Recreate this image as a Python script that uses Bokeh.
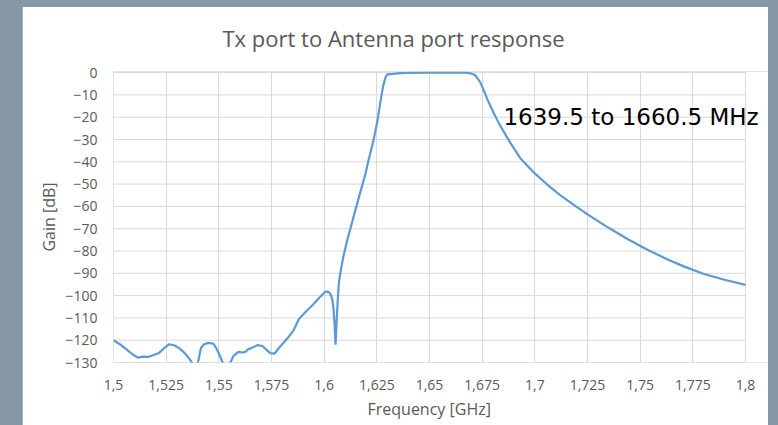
from bokeh.plotting import figure
from bokeh.models import Range1d, Label, Title
from bokeh.embed import file_html
from bokeh.resources import INLINE

# ---- data ----
freq_ghz = [
    1.500, 1.503, 1.506, 1.509, 1.5115, 1.514, 1.5165, 1.519, 1.5215, 1.524,
    1.5265, 1.529, 1.5315, 1.534, 1.536, 1.5375, 1.539, 1.540, 1.5415, 1.543,
    1.545, 1.5475, 1.549, 1.5505, 1.552, 1.554, 1.5555, 1.557, 1.5593, 1.561,
    1.5627, 1.564, 1.566, 1.5684, 1.5707, 1.5725, 1.5745, 1.5765, 1.5785, 1.5805,
    1.583, 1.5855, 1.588, 1.5915, 1.595, 1.598, 1.6006, 1.602, 1.603, 1.6038,
    1.6044, 1.6049, 1.6054, 1.6059, 1.6065, 1.607, 1.608, 1.609, 1.611, 1.613,
    1.615, 1.6172, 1.6196, 1.621, 1.6234, 1.6253, 1.6267, 1.628, 1.6291, 1.630,
    1.633, 1.636, 1.640, 1.650, 1.660, 1.667, 1.6695, 1.6718, 1.6742, 1.676,
    1.6775, 1.6804, 1.6837, 1.6884, 1.6932, 1.700, 1.706, 1.712, 1.718, 1.725,
    1.735, 1.744, 1.753, 1.763, 1.771, 1.780, 1.790, 1.800,
]
gain_db = [
    -120.0, -121.8, -124.0, -126.3, -127.8, -127.4, -127.5, -126.6, -125.8, -123.6,
    -121.8, -122.4, -123.8, -126.0, -128.3, -130.5, -134.0, -130.5, -123.5, -121.8,
    -121.2, -121.6, -124.0, -127.0, -130.5, -134.0, -130.0, -127.0, -125.2, -125.5,
    -125.2, -124.0, -123.3, -122.2, -122.6, -124.2, -125.8, -126.0, -123.5, -121.4,
    -118.7, -115.5, -110.5, -107.0, -103.8, -100.6, -98.2, -98.3, -99.3, -101.5,
    -105.5, -112.0, -122.0, -112.0, -101.0, -94.0, -88.0, -83.0, -75.0, -68.0,
    -61.0, -53.5, -45.5, -39.5, -30.5, -21.5, -13.0, -6.0, -2.2, -0.8,
    -0.6, -0.2, -0.1, 0.0, 0.0, 0.0, -0.3, -1.2, -4.5, -8.5,
    -12.0, -18.0, -24.0, -31.5, -38.5, -45.2, -50.3, -54.9, -59.0, -63.6,
    -69.6, -74.6, -79.2, -83.8, -87.0, -90.2, -92.9, -95.2,
]
x_ticks = [1.5, 1.525, 1.55, 1.575, 1.6, 1.625, 1.65, 1.675, 1.7, 1.725, 1.75, 1.775, 1.8]
x_tick_labels = ["1,5", "1,525", "1,55", "1,575", "1,6", "1,625", "1,65", "1,675",
                 "1,7", "1,725", "1,75", "1,775", "1,8"]
y_ticks = [0, -10, -20, -30, -40, -50, -60, -70, -80, -90, -100, -110, -120, -130]

title_text = "Tx port to Antenna port response"
x_label_text = "Frequency [GHz]"
y_label_text = "Gain [dB]"
note_text = "1639.5 to 1660.5 MHz"

TXT = "#595959"
GRID = "#d9d9d9"
FONT = "Open Sans"
SLIDE = "#8697a5"
X_MIN, X_MAX = x_ticks[0], x_ticks[-1]

# frame runs a little past 1.8 on the right so the annotation is not clipped
p = figure(width=746, height=425, output_backend="svg", toolbar_location=None,
           x_range=Range1d(1.5, 1.81092), y_range=Range1d(-130, 0.5),
           min_border_left=91, min_border_right=0, min_border_top=71, min_border_bottom=63,
           background_fill_color="white", border_fill_color="white",
           title=title_text)
p.margin = (0, 0, 0, 22)
p.outline_line_color = None

p.title.align = "left"
p.title.offset = 109
p.title.text_font = FONT
p.title.text_font_size = "22px"
p.title.text_font_style = "normal"
p.title.text_color = TXT
p.title.standoff = 38

# horizontal gridlines only across the plotted band 1.5 .. 1.8
p.ygrid.grid_line_color = None
p.segment(x0=[X_MIN] * len(y_ticks), x1=[X_MAX] * len(y_ticks), y0=y_ticks, y1=y_ticks,
          line_color=GRID, line_width=1)
p.xgrid.grid_line_color = GRID
p.xgrid.grid_line_width = 1

p.line(freq_ghz, gain_db, line_color="#5b9bd5", line_width=2.2)

p.xaxis.ticker = x_ticks
p.xaxis.major_label_overrides = {t: s for t, s in zip(x_ticks, x_tick_labels)}
p.yaxis.ticker = y_ticks
p.yaxis.bounds = (-134, 0)
for ax in (p.xaxis, p.yaxis):
    ax.axis_line_color = None
    ax.major_tick_line_color = None
    ax.minor_tick_line_color = None
    ax.major_label_text_color = TXT
    ax.major_label_text_font = FONT
    ax.major_label_text_font_size = "14px"
p.yaxis.axis_label = y_label_text
p.yaxis.axis_label_text_color = TXT
p.yaxis.axis_label_text_font = FONT
p.yaxis.axis_label_text_font_size = "16px"
p.yaxis.axis_label_text_font_style = "normal"
p.xaxis.major_label_standoff = 11
p.yaxis.major_label_standoff = 10
p.yaxis.axis_label_standoff = 2

# x-axis title, centred under the 1.5 .. 1.8 band
p.add_layout(Title(text=x_label_text, align="left", offset=254, standoff=7,
                   text_font=FONT, text_font_size="16px", text_font_style="normal",
                   text_color=TXT), "below")

p.add_layout(Label(x=1.6851, y=-19.7, text=note_text, text_align="left",
                   text_baseline="middle", text_font="DejaVu Sans",
                   text_font_size="23px", text_color="black"))

page_css = ("<style>html,body{background:%s;}"
            "body::before{content:'';position:fixed;left:0;top:0;right:0;height:7px;"
            "background:%s;z-index:1000;}</style>") % (SLIDE, SLIDE)
open("out.html", "w").write(file_html(p, INLINE, title="Tx port response").replace(
    "<head>", "<head>\n" + page_css, 1))
